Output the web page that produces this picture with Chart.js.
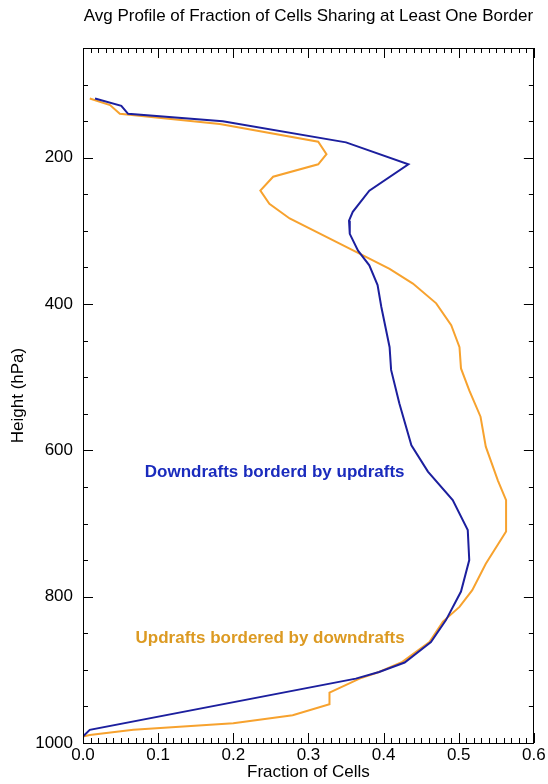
<!DOCTYPE html>
<html>
<head>
<meta charset="utf-8">
<script src="https://cdn.jsdelivr.net/npm/chart.js@4"></script>
<style>
  html, body { margin: 0; padding: 0; background: #fff; }
  #wrap { width: 548px; height: 784px; position: relative; }
</style>
</head>
<body>
<div id="wrap"><canvas id="c" width="548" height="784"></canvas></div>
<script>
// ---- data ----
const titleText = 'Avg Profile of Fraction of Cells Sharing at Least One Border';
const xAxisTitle = 'Fraction of Cells';
const yAxisTitle = 'Height (hPa)';

// Downdrafts bordered by updrafts (blue)
const downPressure = [119,129,140,150,179,209,245,274,286,304,327,347,374,404,459,490,536,593,629,668,709,750,793,832,862,890,903,912,982,991];
const downFraction = [0.016,0.051,0.060,0.186,0.350,0.433,0.381,0.359,0.354,0.355,0.366,0.381,0.392,0.397,0.408,0.410,0.421,0.437,0.459,0.492,0.512,0.514,0.503,0.483,0.463,0.428,0.394,0.363,0.009,0.0];

// Updrafts bordered by downdrafts (orange)
const upPressure = [119,128,140,154,178,195,209,226,245,263,283,331,352,372,399,429,459,488,518,554,595,641,668,711,755,791,814,834,862,889,903,912,931,947,962,973,982,989,991];
const upFraction = [0.009,0.036,0.049,0.182,0.313,0.324,0.313,0.253,0.236,0.248,0.275,0.368,0.408,0.439,0.470,0.490,0.501,0.503,0.514,0.529,0.536,0.552,0.563,0.563,0.536,0.518,0.501,0.479,0.461,0.425,0.394,0.368,0.328,0.328,0.279,0.200,0.067,0.009,0.0];

const xTickLabels = [0.0, 0.1, 0.2, 0.3, 0.4, 0.5, 0.6];
const yTickLabels = [200, 400, 600, 800, 1000];
const xRange = [0, 0.6];
const yRange = [50, 1000];
const xMinorStep = 0.01;
const yMinorStep = 50;

const downLabel = 'Downdrafts borderd by updrafts';
const upLabel = 'Updrafts bordered by downdrafts';
// ---------------------------------------

const FONT = 'Liberation Sans, Arial, Helvetica, sans-serif';
const BLUE_LINE = '#1c1f9e';
const ORANGE_LINE = '#f7a22e';
const BLUE_TEXT = '#1a2bbd';
const ORANGE_TEXT = '#dc9a22';

function toPoints(xs, ps) { return xs.map((v, i) => ({ x: v, y: ps[i] })); }

const inwardTicks = {
  id: 'inwardTicks',
  afterDraw(chart) {
    const { ctx, chartArea: a } = chart;
    const x = chart.scales.x, y = chart.scales.y;
    ctx.save();
    ctx.strokeStyle = '#000';
    ctx.lineWidth = 1;
    ctx.beginPath();
    const nx = Math.round((xRange[1] - xRange[0]) / xMinorStep);
    for (let i = 0; i <= nx; i++) {
      const v = xRange[0] + i * xMinorStep;
      const major = i % 10 === 0;
      const len = major ? 10 : 5;
      const px = Math.round(x.getPixelForValue(v)) + 0.5;
      ctx.moveTo(px, a.bottom); ctx.lineTo(px, a.bottom - len);
      ctx.moveTo(px, a.top); ctx.lineTo(px, a.top + len);
    }
    for (let v = yRange[0]; v <= yRange[1]; v += yMinorStep) {
      const major = v % 200 === 0;
      const len = major ? 10 : 5;
      const py = Math.round(y.getPixelForValue(v)) + 0.5;
      ctx.moveTo(a.left, py); ctx.lineTo(a.left + len, py);
      ctx.moveTo(a.right, py); ctx.lineTo(a.right - len, py);
    }
    ctx.stroke();
    ctx.restore();
  }
};

const annotations = {
  id: 'annotations',
  afterDatasetsDraw(chart) {
    const { ctx } = chart;
    const x = chart.scales.x, y = chart.scales.y;
    ctx.save();
    ctx.font = 'bold 17px ' + FONT;
    ctx.textAlign = 'center';
    ctx.textBaseline = 'middle';
    ctx.fillStyle = BLUE_TEXT;
    ctx.fillText(downLabel, x.getPixelForValue(0.255), y.getPixelForValue(630));
    ctx.fillStyle = ORANGE_TEXT;
    ctx.fillText(upLabel, x.getPixelForValue(0.249), y.getPixelForValue(857));
    ctx.restore();
  }
};

const tickFont = { family: FONT, size: 17 };

new Chart(document.getElementById('c'), {
  type: 'line',
  data: {
    datasets: [
      { label: 'Downdrafts', data: toPoints(downFraction, downPressure), borderColor: BLUE_LINE, borderWidth: 2, pointRadius: 0, tension: 0, fill: false },
      { label: 'Updrafts', data: toPoints(upFraction, upPressure), borderColor: ORANGE_LINE, borderWidth: 2, pointRadius: 0, tension: 0, fill: false }
    ]
  },
  options: {
    responsive: false,
    animation: false,
    devicePixelRatio: 1,
    layout: { padding: 0 },
    plugins: {
      legend: { display: false },
      tooltip: { enabled: false },
      title: {
        display: true, text: titleText, fullSize: false, color: '#000',
        font: { family: FONT, size: 17, weight: 'normal' },
        padding: { top: 5.8, bottom: 21.8 }
      }
    },
    scales: {
      x: {
        type: 'linear', position: 'bottom', min: xRange[0], max: xRange[1],
        afterBuildTicks: s => { s.ticks = xTickLabels.map(v => ({ value: v })); },
        ticks: { font: tickFont, color: '#000', padding: 2.3, maxRotation: 0, autoSkip: false, callback: v => Number(v).toFixed(1) },
        grid: { drawOnChartArea: false, drawTicks: false },
        border: { display: true, color: '#000', width: 1 },
        title: { display: true, text: xAxisTitle, color: '#000', font: tickFont, padding: { top: 0, bottom: 1.5 } },
        afterFit: s => { s.height = 41; }
      },
      x2: {
        type: 'linear', position: 'top', min: xRange[0], max: xRange[1],
        ticks: { display: false },
        grid: { drawOnChartArea: false, drawTicks: false },
        border: { display: true, color: '#000', width: 1 },
        afterFit: s => { s.height = 0; }
      },
      y: {
        type: 'linear', position: 'left', reverse: true, min: yRange[0], max: yRange[1],
        afterBuildTicks: s => { s.ticks = yTickLabels.map(v => ({ value: v })); },
        ticks: { font: tickFont, color: '#000', padding: 10, autoSkip: false, callback: v => String(v) },
        grid: { drawOnChartArea: false, drawTicks: false },
        border: { display: true, color: '#000', width: 1 },
        title: { display: true, text: yAxisTitle, color: '#000', font: tickFont, padding: { top: 7.8, bottom: 0 } },
        afterFit: s => { s.width = 83; }
      },
      y2: {
        type: 'linear', position: 'right', reverse: true, min: yRange[0], max: yRange[1],
        ticks: { display: false },
        grid: { drawOnChartArea: false, drawTicks: false },
        border: { display: true, color: '#000', width: 1 },
        afterFit: s => { s.width = 14; }
      }
    }
  },
  plugins: [inwardTicks, annotations]
});
</script>
</body>
</html>
